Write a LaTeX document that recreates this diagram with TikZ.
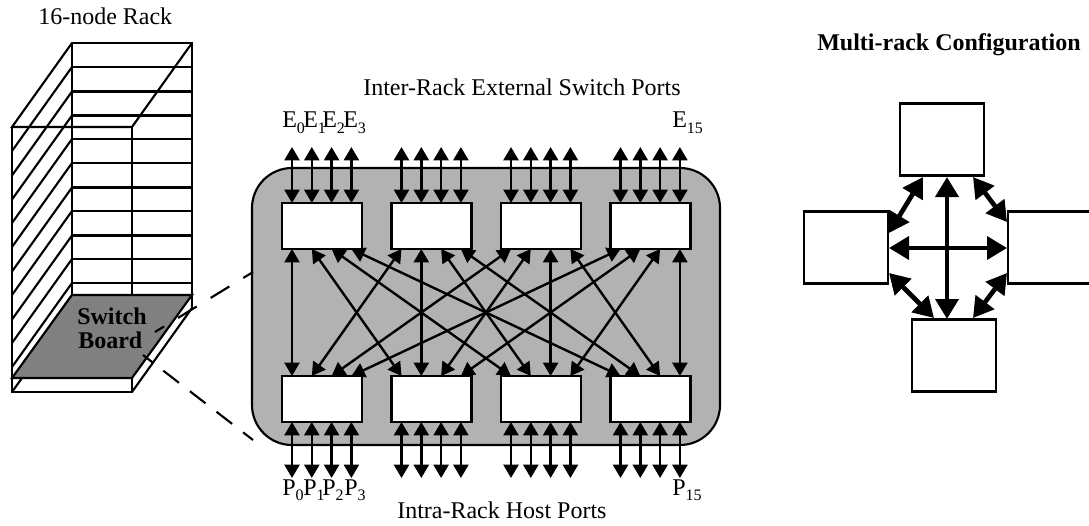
\documentclass[tikz,border=0pt]{standalone}
\usepackage{fontspec}
\setmainfont{Liberation Serif}
\usetikzlibrary{arrows.meta}
\newcommand{\subt}[1]{\raisebox{-4.4pt}{\fontsize{12}{12}\selectfont #1}}
\tikzset{
  x=0.75pt,y=-0.75pt,
  rackline/.style={draw=black,line width=1.6pt},
  swbox/.style={draw=black,line width=1.8pt,fill=white,minimum width=60pt,minimum height=34.5pt,inner sep=0pt,outer sep=0pt},
  rackbox/.style={draw=black,line width=1.8pt,fill=white,minimum width=63pt,minimum height=54pt,inner sep=0pt,outer sep=0pt},
  link/.style={line width=1.8pt,{Triangle[length=10pt,width=11.25pt]}-{Triangle[length=10pt,width=11.25pt]}},
  biglink/.style={line width=3.5pt,{Triangle[length=15pt,width=17pt]}-{Triangle[length=15pt,width=17pt]}},
  dashup/.style={line width=1.6pt,dash pattern=on 16.4pt off 12.3pt,dash phase=7.9pt},
  dashdn/.style={line width=1.6pt,dash pattern=on 14.8pt off 10.4pt,dash phase=5.4pt},
  lbl/.style={font=\fontsize{18}{20}\selectfont,inner sep=0pt,anchor=base west},
  blbl/.style={font=\fontsize{18}{20}\selectfont\bfseries,inner sep=0pt,anchor=base west},
}
\begin{document}
\begin{tikzpicture}
\useasboundingbox (0,0) rectangle (1089,525);
\fill[white] (0,0) rectangle (1089,525);
% rack
\foreach \y in {67,91.5,115.5,139,163,187.5,211,235.5,259,283,295}{
  \draw[rackline] (72,\y) -- (192,\y);
  \draw[rackline] (72,\y) -- (12,\y+84);
}
\draw[rackline] (72,43) rectangle (192,295);
\draw[rackline] (72,43) -- (12,127) -- (132,127) -- (192,43);
\draw[rackline] (12,127) -- (12,392) -- (132,392) -- (132,127);
\draw[rackline] (132,392) -- (192,308);
\draw[rackline] (192,295) -- (192,308);
\draw[rackline,fill=black!50] (72,295) -- (192,295) -- (132,378) -- (12,378) -- cycle;
\draw[rackline] (12,392) -- (22,378);
\node[blbl] (sw) at (77,324) {Switch};
\node[blbl] (bd) at (78,348) {Board};
\node[lbl] (rk) at (38,24) {16-node Rack};
% board
\node[draw=black,line width=1.6pt,fill=black!30,rounded corners=30pt,minimum width=351pt,minimum height=207.75pt,inner sep=0pt] (board) at (486,306.5) {};
\coordinate (za) at (155,332);
\coordinate (zb) at (253,272);
\coordinate (zc) at (143,355);
\coordinate (zd) at (253,440);
\draw[dashup] (zb) -- (za);
\draw[dashdn] (zd) -- (zc);
% ports
\foreach \i/\a in {1/292,2/401.5,3/511,4/620.5}{
  \foreach \j/\d in {1/0,2/19.8,3/39.6,4/59.4}{
    \coordinate (TT\i\j) at (\a+\d,147);
    \coordinate (TB\i\j) at (\a+\d,203);
    \coordinate (MT\i\j) at (\a+\d,249);
    \coordinate (MB\i\j) at (\a+\d,376);
    \coordinate (BT\i\j) at (\a+\d,422);
    \coordinate (BB\i\j) at (\a+\d,478);
    \draw[link] (TT\i\j) -- (TB\i\j);
    \draw[link] (BT\i\j) -- (BB\i\j);
  }
}
\foreach \i in {1,2,3,4}{
  \foreach \j in {1,2,3,4}{
    \draw[link] (MT\i\j) -- (MB\j\i);
  }
}
\foreach \n/\x in {1/322,2/431.5,3/541,4/650.5}{
  \node[swbox] (u\n) at (\x,226) {};
  \node[swbox] (l\n) at (\x,399) {};
}
% labels
\node[lbl] (e0) at (282,127.5) {E\subt{0}};
\node[lbl] (e1) at (303,127.5) {E\subt{1}};
\node[lbl] (e2) at (322,127.5) {E\subt{2}};
\node[lbl] (e3) at (343,127.5) {E\subt{3}};
\node[lbl] (e15) at (672,127.5) {E\subt{15}};
\node[lbl] (p0) at (282,495) {P\subt{0}};
\node[lbl] (p1) at (303,495) {P\subt{1}};
\node[lbl] (p2) at (322,495) {P\subt{2}};
\node[lbl] (p3) at (344,495) {P\subt{3}};
\node[lbl] (p15) at (672,495) {P\subt{15}};
\node[lbl] (ext) at (363,95) {Inter-Rack External Switch Ports};
\node[lbl] (hst) at (397,518) {Intra-Rack Host Ports};
% multi-rack
\node[blbl] (mr) at (817,50) {Multi-rack Configuration};
\node[rackbox] (rt) at (942,139.5) {};
\node[rackbox] (rl) at (846,247.5) {};
\node[rackbox] (rr) at (1050,247.5) {};
\node[rackbox] (rb) at (954,355.5) {};
\coordinate (a1) at (923,177); \coordinate (a2) at (889,233);
\coordinate (b1) at (973,177); \coordinate (b2) at (1007,222);
\coordinate (c1) at (889,273); \coordinate (c2) at (934,318);
\coordinate (d1) at (1007,273); \coordinate (d2) at (973,318);
\coordinate (v1) at (947,177); \coordinate (v2) at (947,319);
\coordinate (h1) at (889,248); \coordinate (h2) at (1007,248);
\draw[biglink] (a1) -- (a2);
\draw[biglink] (b1) -- (b2);
\draw[biglink] (c1) -- (c2);
\draw[biglink] (d1) -- (d2);
\draw[biglink] (v1) -- (v2);
\draw[biglink] (h1) -- (h2);
\end{tikzpicture}
\end{document}
